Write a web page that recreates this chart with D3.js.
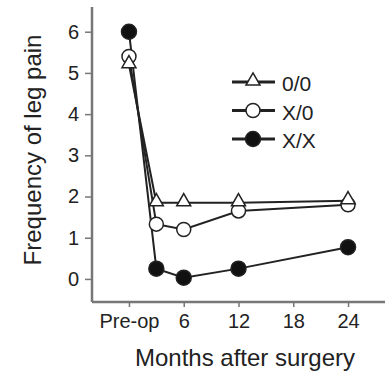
<!DOCTYPE html>
<html lang="en">
<head>
<meta charset="UTF-8">
<title>Frequency of leg pain</title>
<style>
body { margin: 0; background: #fff; }
text { font-family: "Liberation Sans", Arial, sans-serif; fill: #222; }
</style>
</head>
<body>
<svg width="385" height="373"></svg>
<script src="https://d3js.org/d3.v7.min.js"></script>
<script>

var months = [0, 3, 6, 12, 24];
var xTicks = [0, 6, 12, 18, 24];
var xTickLabels = ["Pre-op", "6", "12", "18", "24"];
var yTicks = [0, 1, 2, 3, 4, 5, 6];

var series00 = [5.2, 1.85, 1.85, 1.85, 1.9];
var seriesX0 = [5.4, 1.33, 1.2, 1.65, 1.8];
var seriesXX = [6.0, 0.25, 0.03, 0.25, 0.77];

var seriesNames = ["0/0", "X/0", "X/X"];
var seriesData = [series00, seriesX0, seriesXX];
var seriesShapes = ["triangle", "open", "filled"];

var svg = d3.select("svg");

var x = d3.scaleLinear().domain([-4.05, 28.05]).range([92, 385]);
var y = d3.scaleLinear().domain([-0.56, 6.6]).range([302, 7]);

// axes
var yAxis = svg.append("g")
    .attr("transform", "translate(92,0)")
    .call(d3.axisLeft(y).tickValues(yTicks).tickSize(7).tickPadding(6).tickFormat(d3.format("d")));

var xAxis = svg.append("g")
    .attr("transform", "translate(0,302)")
    .call(d3.axisBottom(x).tickValues(xTicks).tickSize(5).tickPadding(7)
      .tickFormat(function(d, i) { return xTickLabels[i]; }));

svg.selectAll(".domain").attr("stroke", "#777").attr("stroke-width", 2.5);
svg.selectAll(".tick line").attr("stroke", "#777").attr("stroke-width", 1.5);
svg.selectAll(".tick text").attr("font-size", 20).attr("fill", "#222");
xAxis.select(".domain").attr("d", "M92,0H385");
yAxis.select(".domain").attr("d", "M0,7V302");

svg.append("text")
    .attr("transform", "translate(41,150) rotate(-90)")
    .attr("text-anchor", "middle")
    .attr("font-size", 24)
    .text("Frequency of leg pain");

svg.append("text")
    .attr("x", 245)
    .attr("y", 366)
    .attr("text-anchor", "middle")
    .attr("font-size", 24)
    .text("Months after surgery");

var line = d3.line()
    .x(function(d, i) { return x(months[i]); })
    .y(function(d) { return y(d); });

function drawMarker(g, shape, cx, cy) {
  if (shape == "triangle") {
    g.append("path")
      .attr("d", d3.symbol().type(d3.symbolTriangle).size(85)())
      .attr("transform", "translate(" + cx + "," + (cy - 1) + ")")
      .attr("fill", "#fff").attr("stroke", "#222").attr("stroke-width", 1.5);
  } else {
    g.append("circle")
      .attr("cx", cx).attr("cy", cy).attr("r", shape == "filled" ? 7.5 : 7)
      .attr("fill", shape == "filled" ? "#111" : "#fff")
      .attr("stroke", "#222").attr("stroke-width", 1.5);
  }
}

var plot = svg.append("g");

seriesData.forEach(function(vals, k) {
  plot.append("path")
    .datum(vals)
    .attr("fill", "none")
    .attr("stroke", "#222")
    .attr("stroke-width", 2)
    .attr("d", line);
});

// markers: filled first, then open, then triangle on top
[2, 1, 0].forEach(function(k) {
  seriesData[k].forEach(function(v, i) {
    drawMarker(plot, seriesShapes[k], x(months[i]), y(v));
  });
});

// legend
var legend = svg.append("g")
  .selectAll("g")
  .data(seriesNames)
  .enter().append("g")
    .attr("transform", function(d, i) { return "translate(0," + (82 + i * 28.5) + ")"; });

legend.append("line")
    .attr("x1", 232).attr("x2", 275)
    .attr("y1", 0).attr("y2", 0)
    .attr("stroke", "#222").attr("stroke-width", 3);

legend.each(function(d, i) {
  drawMarker(d3.select(this), seriesShapes[i], 253, 0);
});

legend.append("text")
    .attr("x", 282)
    .attr("y", 9)
    .attr("font-size", 21)
    .text(function(d) { return d; });

</script>
</body>
</html>
